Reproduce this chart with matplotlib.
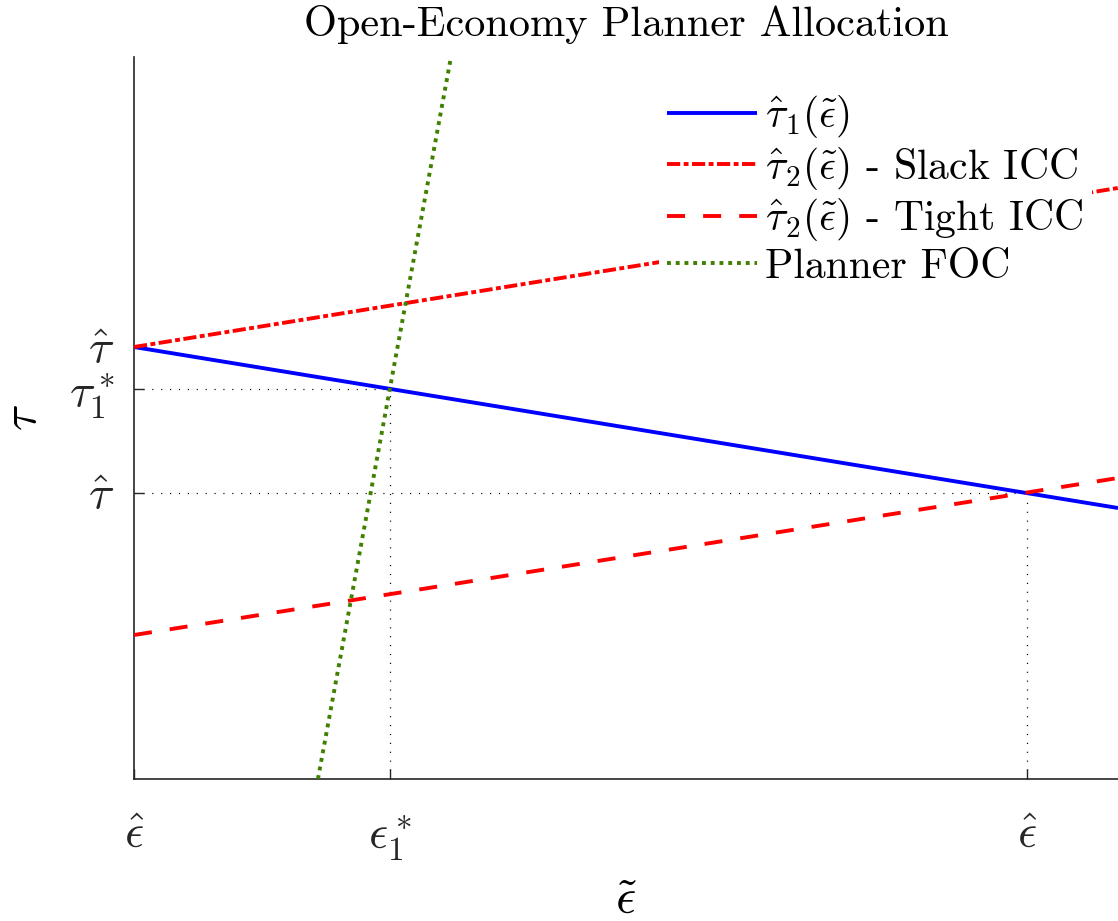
import matplotlib
matplotlib.use("Agg")
import matplotlib.pyplot as plt

# Fonte estilo LaTeX (Computer Modern)
plt.rcParams['font.family'] = 'cmr10'
plt.rcParams['mathtext.fontset'] = 'cm'
plt.rcParams['axes.unicode_minus'] = False
plt.rcParams['lines.scale_dashes'] = False

# Dados (unidades arbitrarias do modelo)
eps_lo = 0.0
eps_star = 0.287
eps_hi = 1.0
tau_hat_hi = 4.32
tau_star = 3.90
tau_hat_lo = 2.86

eps_line = [0.0, 1.102]
tau1_line = [4.32, 2.71]
tau2_slack = [4.32, 5.91]
tau2_tight = [1.44, 3.01]
foc_eps = [0.206, 0.355]
foc_tau = [0.0, 7.22]

x_ticks = [eps_lo, eps_star, eps_hi]
x_labels = [r'$\hat{\epsilon}$', r'$\epsilon_1^*$', r'$\hat{\epsilon}$']
y_ticks = [tau_hat_lo, tau_star, tau_hat_hi]
y_labels = [r'$\hat{\tau}$', r'$\tau_1^*$', r'$\hat{\tau}$']

legend_labels = [r'$\hat{\tau}_1(\tilde{\epsilon})$',
                 r'$\hat{\tau}_2(\tilde{\epsilon})$ - Slack ICC',
                 r'$\hat{\tau}_2(\tilde{\epsilon})$ - Tight ICC',
                 'Planner FOC']

fig = plt.figure(figsize=(11.18, 9.21), dpi=100)
ax = fig.add_axes([134 / 1118, 1 - 779 / 921, (1118 - 134) / 1118, (779 - 57) / 921])

green = (0.25, 0.5, 0.0)

# Linhas de referencia pontilhadas
ref = dict(color='black', lw=0.9, dashes=(0.8, 5.6), zorder=1)
ax.plot([eps_lo, eps_star], [tau_star, tau_star], **ref)
ax.plot([eps_star, eps_star], [0, tau_star], **ref)
ax.plot([eps_lo, eps_hi], [tau_hat_lo, tau_hat_lo], **ref)
ax.plot([eps_hi, eps_hi], [0, tau_hat_lo], **ref)

# Curvas principais
l1, = ax.plot(eps_line, tau1_line, color='blue', lw=2.8, solid_capstyle='butt', zorder=3)
l2, = ax.plot(eps_line, tau2_slack, color='red', lw=2.8, dashes=(9.5, 2.5, 3.5, 2.5), zorder=3)
l3, = ax.plot(eps_line, tau2_tight, color='red', lw=2.8, dashes=(13, 13), zorder=3)
l4, = ax.plot(foc_eps, foc_tau, color=green, lw=2.8, dashes=(2.8, 3.5), zorder=3)

ax.set_xlim(0, 1.102)
ax.set_ylim(0, 7.22)

ax.set_xticks(x_ticks)
ax.set_xticklabels(x_labels)
ax.set_yticks(y_ticks)
ax.set_yticklabels(y_labels)
ax.tick_params(direction='in', length=7, width=1.0, labelsize=34,
               color='#262626', labelcolor='#262626')
ax.tick_params(axis='x', pad=25)
ax.tick_params(axis='y', pad=14)

for s in ['top', 'right']:
    ax.spines[s].set_visible(False)
for s in ['left', 'bottom']:
    ax.spines[s].set_color('#262626')
    ax.spines[s].set_linewidth(1.2)

ax.set_xlabel(r'$\tilde{\epsilon}$', fontsize=36)
ax.set_ylabel(r'$\tau$', fontsize=35)
ax.xaxis.set_label_coords(0.5, -0.135)
ax.yaxis.set_label_coords(-0.089, 0.5)
ax.set_title('Open-Economy Planner Allocation', fontsize=30.5, pad=15)

leg = ax.legend([l1, l2, l3, l4], legend_labels, loc='upper right',
                bbox_to_anchor=(1092 / 1118, 1 - 85 / 921), bbox_transform=fig.transFigure,
                fontsize=30, frameon=True, facecolor='white', edgecolor='none',
                framealpha=1.0, fancybox=False, handlelength=2.15, handletextpad=0.2,
                labelspacing=0.11, borderpad=0.2, borderaxespad=0)

fig.savefig('out.png', dpi=100)
